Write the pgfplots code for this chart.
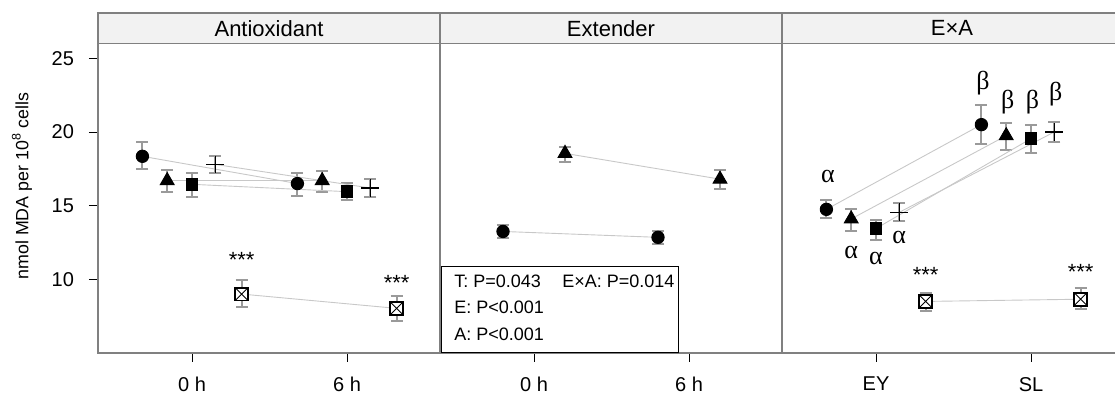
\documentclass[border=0pt]{standalone}
\usepackage{pgfplots}
\pgfplotsset{compat=1.18}
\usepackage{fontspec}
\setmainfont{Liberation Sans}
\newfontfamily\greekfont{Liberation Serif}

\definecolor{axgray}{HTML}{808080}
\definecolor{errgray}{HTML}{9A9A9A}
\definecolor{linegray}{HTML}{C8C8C8}
\definecolor{stripfill}{HTML}{F2F2F2}

\pgfdeclareplotmark{sqx}{%
  \pgfsetlinewidth{0.9pt}%
  \pgfpathrectangle{\pgfpoint{-\pgfplotmarksize}{-\pgfplotmarksize}}{\pgfpoint{2\pgfplotmarksize}{2\pgfplotmarksize}}%
  \pgfusepathqfillstroke
  \pgfsetlinewidth{0.45pt}%
  \pgfpathmoveto{\pgfpoint{-\pgfplotmarksize}{-\pgfplotmarksize}}%
  \pgfpathlineto{\pgfpoint{\pgfplotmarksize}{\pgfplotmarksize}}%
  \pgfpathmoveto{\pgfpoint{-\pgfplotmarksize}{\pgfplotmarksize}}%
  \pgfpathlineto{\pgfpoint{\pgfplotmarksize}{-\pgfplotmarksize}}%
  \pgfusepathqstroke
}

\pgfplotsset{
  panel/.style={
    scale only axis, x=77.5pt, y=7.3665pt,
    xmin=0.3935, ymin=5, ymax=26,
    anchor=south west, clip=false,
    axis line style={axgray, line width=0.6pt},
    xtick={1,2}, xtick pos=lower, tick align=outside,
    major tick length=4.5pt, tick style={black, line width=0.5pt},
    ticklabel style={font=\fontsize{10}{12}\selectfont},
    xticklabel style={yshift=-4pt},
    yticklabel style={xshift=-4pt},
    /pgf/number format/assume math mode=true,
  },
  ser/.style={color=linegray, line width=0.45pt,
    mark options={solid, black, fill=black},
    error bars/y dir=both, error bars/y explicit,
    error bars/error bar style={errgray, line width=1pt},
    error bars/error mark options={errgray, line width=1pt, mark size=3pt, rotate=90}},
  pcirc/.style={ser, mark=*, mark size=3.1pt},
  ptri/.style={ser, mark=triangle*, mark size=4pt},
  psq/.style={ser, mark=square*, mark size=2.9pt},
  pplus/.style={ser, mark=+, mark size=4.4pt, mark options={solid, black, line width=0.7pt}},
  psqx/.style={ser, mark=sqx, mark size=3.2pt, mark options={solid, black, fill=white}},
}

\newcommand{\strip}[1]{%
  \draw[axgray, line width=0.6pt, fill=stripfill] (rel axis cs:0,1) rectangle ([yshift=15.3pt]rel axis cs:1,1);
  \node[font=\fontsize{11}{13}\selectfont] at ([yshift=7.65pt]rel axis cs:0.5,1) {#1};
}

\begin{document}
\begin{tikzpicture}
\useasboundingbox (0,0) rectangle (557.5pt,198pt);

% ---------- Antioxidant ----------
\begin{axis}[panel, at={(49pt,21.5pt)}, xmax=2.6,
  xticklabels={0 h,6 h}, ytick={10,15,20,25}, ytick pos=left]
\addplot[pcirc] table[y error plus=ep, y error minus=em] {
x y ep em
0.68 18.35 0.95 0.85
1.68 16.50 0.75 0.85
};
\addplot[ptri] table[y error plus=ep, y error minus=em] {
x y ep em
0.84 16.70 0.75 0.80
1.84 16.70 0.65 0.80
};
\addplot[psq] table[y error plus=ep, y error minus=em] {
x y ep em
1.00 16.45 0.75 0.85
2.00 15.95 0.60 0.55
};
\addplot[pplus] table[y error plus=ep, y error minus=em] {
x y ep em
1.15 17.80 0.60 0.60
2.15 16.20 0.60 0.60
};
\addplot[psqx] table[y error plus=ep, y error minus=em] {
x y ep em
1.32 9.00 0.93 0.90
2.32 8.03 0.87 0.83
};
\node[font=\fontsize{11}{12}\selectfont] at (axis cs:1.32,11.3) {***};
\node[font=\fontsize{11}{12}\selectfont] at (axis cs:2.32,9.75) {***};
\strip{Antioxidant}
\end{axis}

% ---------- Extender ----------
\begin{axis}[panel, at={(220pt,21.5pt)}, xmax=2.6,
  xticklabels={0 h,6 h}, ytick=\empty]
\addplot[pcirc] table[y error plus=ep, y error minus=em] {
x y ep em
0.80 13.25 0.45 0.45
1.80 12.85 0.45 0.45
};
\addplot[ptri] table[y error plus=ep, y error minus=em] {
x y ep em
1.20 18.55 0.45 0.60
2.20 16.80 0.60 0.70
};
\draw[black, line width=0.5pt, fill=white] (axis cs:0.40,5) rectangle (axis cs:1.935,10.9);
\begin{scope}[every node/.style={font=\fontsize{9}{10}\selectfont, anchor=west, inner sep=0pt}]
\node at (axis cs:0.484,9.89) {T: P=0.043};
\node at (axis cs:1.18,9.89) {E×A: P=0.014};
\node at (axis cs:0.484,8.12) {E: P<0.001};
\node at (axis cs:0.484,6.29) {A: P<0.001};
\end{scope}
\strip{Extender}
\end{axis}

% ---------- ExA ----------
\begin{axis}[panel, at={(391pt,21.5pt)}, xmax=2.587,
  xticklabels={EY,SL}, ytick=\empty]
\addplot[pcirc] table[y error plus=ep, y error minus=em] {
x y ep em
0.68 14.75 0.65 0.60
1.68 20.50 1.35 1.30
};
\addplot[ptri] table[y error plus=ep, y error minus=em] {
x y ep em
0.84 14.10 0.65 0.80
1.84 19.75 0.85 0.95
};
\addplot[psq] table[y error plus=ep, y error minus=em] {
x y ep em
1.00 13.45 0.60 0.75
2.00 19.55 0.90 1.00
};
\addplot[pplus] table[y error plus=ep, y error minus=em] {
x y ep em
1.15 14.55 0.60 0.60
2.15 20.00 0.70 0.70
};
\addplot[psqx] table[y error plus=ep, y error minus=em] {
x y ep em
1.32 8.50 0.60 0.65
2.32 8.65 0.75 0.65
};
\begin{scope}[every node/.style={font=\greekfont\fontsize{13}{14}\selectfont}]
\node at (axis cs:0.69,16.99) {α};
\node at (axis cs:0.84,11.83) {α};
\node at (axis cs:1.00,11.42) {α};
\node at (axis cs:1.15,12.85) {α};
\node at (axis cs:1.69,23.3) {β};
\node at (axis cs:1.85,22.05) {β};
\node at (axis cs:2.01,22.05) {β};
\node at (axis cs:2.16,22.6) {β};
\end{scope}
\node[font=\fontsize{11}{12}\selectfont] at (axis cs:1.32,10.3) {***};
\node[font=\fontsize{11}{12}\selectfont] at (axis cs:2.32,10.5) {***};
\strip{E×A}
\end{axis}

\node[rotate=90, font=\fontsize{8.9}{10}\selectfont] at (11pt,105pt) {nmol MDA per 10\textsuperscript{8} cells};
\end{tikzpicture}
\end{document}
